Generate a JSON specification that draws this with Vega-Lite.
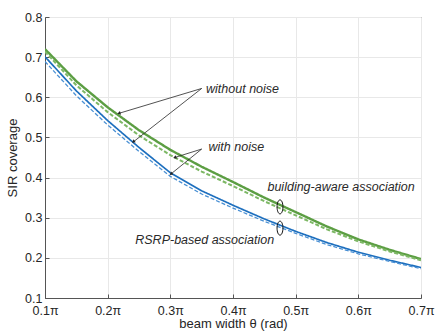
{
  "$schema": "https://vega.github.io/schema/vega-lite/v6.json",
  "width": 376,
  "height": 281,
  "autosize": "none",
  "padding": {"left": 45, "top": 17, "right": 15, "bottom": 38},
  "background": "white",
  "config": {
    "view": {"stroke": "#555555", "strokeWidth": 1},
    "font": "Liberation Sans",
    "axis": {
      "labelFont": "Liberation Sans",
      "titleFont": "Liberation Sans",
      "labelColor": "#262626",
      "titleColor": "#262626",
      "labelFontSize": 12.5,
      "titleFontSize": 13,
      "titleFontWeight": "normal",
      "gridColor": "#e8e8e8",
      "gridWidth": 1,
      "domainColor": "#555555",
      "tickColor": "#555555",
      "tickSize": -4,
      "labelPadding": 7
    }
  },
  "datasets": {
    "curves": [
      {"theta": 0.10, "value": 0.720, "series": "building-aware, without noise"},
      {"theta": 0.15, "value": 0.640, "series": "building-aware, without noise"},
      {"theta": 0.20, "value": 0.575, "series": "building-aware, without noise"},
      {"theta": 0.25, "value": 0.518, "series": "building-aware, without noise"},
      {"theta": 0.30, "value": 0.469, "series": "building-aware, without noise"},
      {"theta": 0.35, "value": 0.427, "series": "building-aware, without noise"},
      {"theta": 0.40, "value": 0.389, "series": "building-aware, without noise"},
      {"theta": 0.45, "value": 0.350, "series": "building-aware, without noise"},
      {"theta": 0.50, "value": 0.314, "series": "building-aware, without noise"},
      {"theta": 0.55, "value": 0.278, "series": "building-aware, without noise"},
      {"theta": 0.60, "value": 0.246, "series": "building-aware, without noise"},
      {"theta": 0.65, "value": 0.220, "series": "building-aware, without noise"},
      {"theta": 0.70, "value": 0.197, "series": "building-aware, without noise"},
      {"theta": 0.10, "value": 0.714, "series": "building-aware, with noise"},
      {"theta": 0.15, "value": 0.630, "series": "building-aware, with noise"},
      {"theta": 0.20, "value": 0.563, "series": "building-aware, with noise"},
      {"theta": 0.25, "value": 0.505, "series": "building-aware, with noise"},
      {"theta": 0.30, "value": 0.456, "series": "building-aware, with noise"},
      {"theta": 0.35, "value": 0.415, "series": "building-aware, with noise"},
      {"theta": 0.40, "value": 0.379, "series": "building-aware, with noise"},
      {"theta": 0.45, "value": 0.341, "series": "building-aware, with noise"},
      {"theta": 0.50, "value": 0.306, "series": "building-aware, with noise"},
      {"theta": 0.55, "value": 0.271, "series": "building-aware, with noise"},
      {"theta": 0.60, "value": 0.241, "series": "building-aware, with noise"},
      {"theta": 0.65, "value": 0.216, "series": "building-aware, with noise"},
      {"theta": 0.70, "value": 0.194, "series": "building-aware, with noise"},
      {"theta": 0.10, "value": 0.701, "series": "RSRP-based, without noise"},
      {"theta": 0.15, "value": 0.616, "series": "RSRP-based, without noise"},
      {"theta": 0.20, "value": 0.542, "series": "RSRP-based, without noise"},
      {"theta": 0.25, "value": 0.475, "series": "RSRP-based, without noise"},
      {"theta": 0.30, "value": 0.412, "series": "RSRP-based, without noise"},
      {"theta": 0.35, "value": 0.367, "series": "RSRP-based, without noise"},
      {"theta": 0.40, "value": 0.331, "series": "RSRP-based, without noise"},
      {"theta": 0.45, "value": 0.297, "series": "RSRP-based, without noise"},
      {"theta": 0.50, "value": 0.266, "series": "RSRP-based, without noise"},
      {"theta": 0.55, "value": 0.238, "series": "RSRP-based, without noise"},
      {"theta": 0.60, "value": 0.214, "series": "RSRP-based, without noise"},
      {"theta": 0.65, "value": 0.194, "series": "RSRP-based, without noise"},
      {"theta": 0.70, "value": 0.176, "series": "RSRP-based, without noise"},
      {"theta": 0.10, "value": 0.689, "series": "RSRP-based, with noise"},
      {"theta": 0.15, "value": 0.604, "series": "RSRP-based, with noise"},
      {"theta": 0.20, "value": 0.531, "series": "RSRP-based, with noise"},
      {"theta": 0.25, "value": 0.465, "series": "RSRP-based, with noise"},
      {"theta": 0.30, "value": 0.403, "series": "RSRP-based, with noise"},
      {"theta": 0.35, "value": 0.359, "series": "RSRP-based, with noise"},
      {"theta": 0.40, "value": 0.324, "series": "RSRP-based, with noise"},
      {"theta": 0.45, "value": 0.291, "series": "RSRP-based, with noise"},
      {"theta": 0.50, "value": 0.261, "series": "RSRP-based, with noise"},
      {"theta": 0.55, "value": 0.233, "series": "RSRP-based, with noise"},
      {"theta": 0.60, "value": 0.210, "series": "RSRP-based, with noise"},
      {"theta": 0.65, "value": 0.191, "series": "RSRP-based, with noise"},
      {"theta": 0.70, "value": 0.173, "series": "RSRP-based, with noise"}
    ],
    "arrows": [
      {"x1": 0.350, "y1": 0.622, "x2": 0.218, "y2": 0.560},
      {"x1": 0.350, "y1": 0.622, "x2": 0.241, "y2": 0.489},
      {"x1": 0.350, "y1": 0.471, "x2": 0.307, "y2": 0.450},
      {"x1": 0.350, "y1": 0.471, "x2": 0.301, "y2": 0.409}
    ],
    "labels": [
      {"x": 0.357, "y": 0.621, "text": "without noise"},
      {"x": 0.361, "y": 0.477, "text": "with noise"},
      {"x": 0.455, "y": 0.377, "text": "building-aware association"},
      {"x": 0.244, "y": 0.2445, "text": "RSRP-based association"}
    ],
    "ellipses": [
      {"x": 0.475, "y": 0.327},
      {"x": 0.475, "y": 0.274}
    ]
  },
  "layer": [
    {
      "data": {"name": "curves"},
      "mark": {"type": "line", "clip": true},
      "encoding": {
        "x": {
          "field": "theta", "type": "quantitative",
          "scale": {"domain": [0.1, 0.7], "nice": false, "zero": false},
          "axis": {
            "title": "beam width  θ (rad)",
            "values": [0.1, 0.2, 0.3, 0.4, 0.5, 0.6, 0.7],
            "labelExpr": "format(datum.value, '.1f') + 'π'",
            "labelPadding": 10,
            "titlePadding": 1,
            "labelFlush": false
          }
        },
        "y": {
          "field": "value", "type": "quantitative",
          "scale": {"domain": [0.1, 0.8], "nice": false, "zero": false},
          "axis": {
            "title": "SIR coverage",
            "values": [0.1, 0.2, 0.3, 0.4, 0.5, 0.6, 0.7, 0.8],
            "format": ".1f",
            "titlePadding": 5,
            "labelFlush": false
          }
        },
        "color": {
          "field": "series", "type": "nominal",
          "scale": {
            "domain": ["building-aware, without noise", "building-aware, with noise", "RSRP-based, without noise", "RSRP-based, with noise"],
            "range": ["#5c9e43", "#7db865", "#1d6fbe", "#4a90d4"]
          },
          "legend": null
        },
        "strokeDash": {
          "field": "series", "type": "nominal",
          "scale": {
            "domain": ["building-aware, without noise", "building-aware, with noise", "RSRP-based, without noise", "RSRP-based, with noise"],
            "range": [[1, 0], [4, 2], [1, 0], [4, 2]]
          },
          "legend": null
        },
        "strokeWidth": {
          "field": "series", "type": "nominal",
          "scale": {
            "domain": ["building-aware, without noise", "building-aware, with noise", "RSRP-based, without noise", "RSRP-based, with noise"],
            "range": [2.4, 1.3, 2.4, 1.3]
          },
          "legend": null
        }
      }
    },
    {
      "data": {"name": "arrows"},
      "mark": {"type": "rule", "color": "#262626", "strokeWidth": 0.8},
      "encoding": {
        "x": {"field": "x1", "type": "quantitative"},
        "y": {"field": "y1", "type": "quantitative"},
        "x2": {"field": "x2"},
        "y2": {"field": "y2"}
      }
    },
    {
      "data": {"name": "arrows"},
      "transform": [
        {"calculate": "atan2(-(datum.y2 - datum.y1) * 401.4, (datum.x2 - datum.x1) * 626.7) * 180 / PI", "as": "ang"}
      ],
      "mark": {"type": "point", "shape": "triangle-right", "filled": true, "color": "#262626", "size": 14, "opacity": 1},
      "encoding": {
        "x": {"field": "x2", "type": "quantitative"},
        "y": {"field": "y2", "type": "quantitative"},
        "angle": {"field": "ang", "type": "quantitative", "scale": null}
      }
    },
    {
      "data": {"name": "labels"},
      "mark": {"type": "text", "align": "left", "baseline": "middle", "fontStyle": "italic", "fontSize": 12.5, "color": "#2a2a2a", "font": "Liberation Sans"},
      "encoding": {
        "x": {"field": "x", "type": "quantitative"},
        "y": {"field": "y", "type": "quantitative"},
        "text": {"field": "text"}
      }
    },
    {
      "data": {"name": "ellipses"},
      "mark": {"type": "point", "shape": "M -0.42,0 A 0.42,1 0 1,0 0.42,0 A 0.42,1 0 1,0 -0.42,0 Z", "filled": false, "color": "#111111", "strokeWidth": 1, "size": 196, "opacity": 1},
      "encoding": {
        "x": {"field": "x", "type": "quantitative"},
        "y": {"field": "y", "type": "quantitative"}
      }
    }
  ]
}
